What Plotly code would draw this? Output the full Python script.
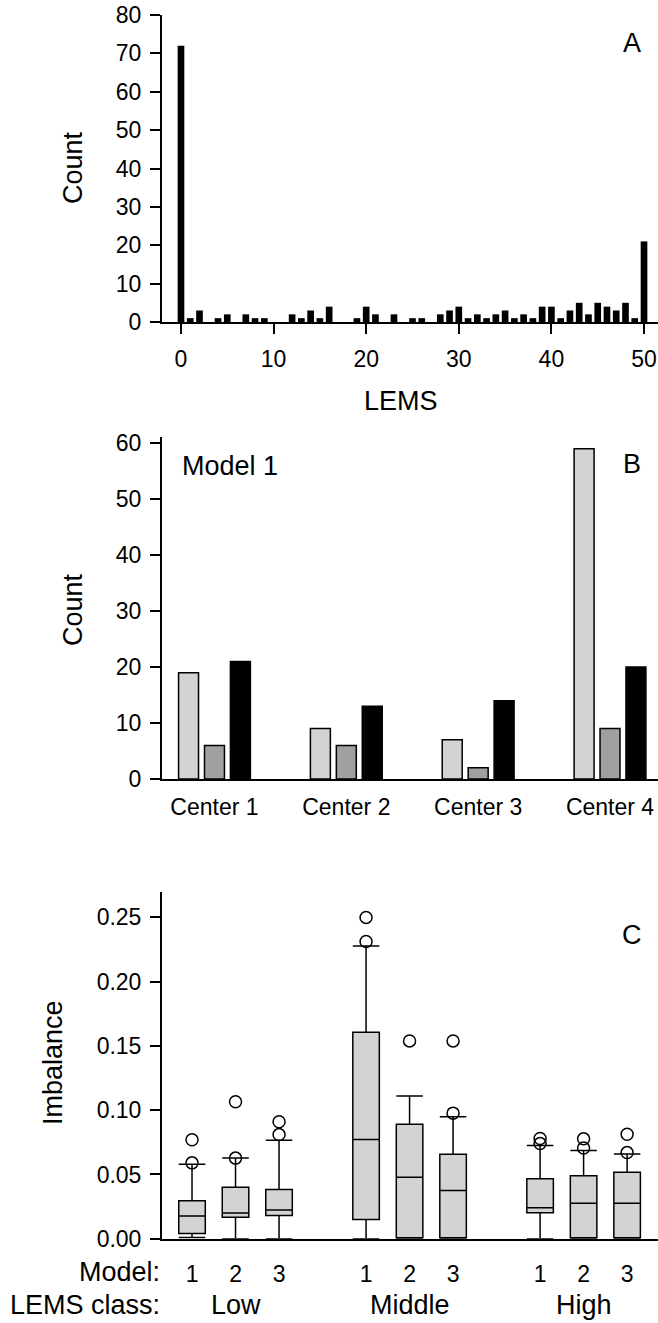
import plotly.graph_objects as go

W, H = 658, 1323

# ---------------- data ----------------
lems_scores = list(range(0, 51))
lems_counts = [72, 1, 3, 0, 1, 2, 0, 2, 1, 1, 0, 0, 2, 1, 3, 1, 4, 0, 0, 1,
               4, 2, 0, 2, 0, 1, 1, 0, 2, 3, 4, 1, 2, 1, 2, 3, 1, 2, 1, 4,
               4, 1, 3, 5, 2, 5, 4, 3, 5, 1, 21]

centers = ["Center 1", "Center 2", "Center 3", "Center 4"]
class_low = [19, 9, 7, 59]
class_mid = [6, 6, 2, 9]
class_high = [21, 13, 14, 20]

box_pos = [1, 2, 3, 5, 6, 7, 9, 10, 11]
box_labels = ["1", "2", "3", "1", "2", "3", "1", "2", "3"]
box_lower = [0.001, 0.0, 0.0, 0.0, 0.0, 0.0, 0.0, 0.0, 0.0]
box_q1 = [0.0041, 0.0166, 0.018, 0.015, 0.0008, 0.0008, 0.0202, 0.0008, 0.0008]
box_median = [0.0176, 0.020, 0.0223, 0.0772, 0.0479, 0.0376, 0.0241, 0.0275, 0.0275]
box_q3 = [0.0295, 0.040, 0.0383, 0.1606, 0.0891, 0.0658, 0.0466, 0.049, 0.0518]
box_upper = [0.058, 0.0627, 0.0767, 0.2277, 0.1111, 0.0948, 0.0725, 0.0687, 0.066]
outlier_pos = [1, 1, 2, 2, 3, 3, 5, 5, 6, 7, 7, 9, 9, 10, 10, 11, 11]
outlier_val = [0.059, 0.077, 0.0627, 0.1065, 0.081, 0.091, 0.2313, 0.25, 0.1539,
               0.0977, 0.1539, 0.074, 0.078, 0.0705, 0.0777, 0.067, 0.0813]
group_pos = [2, 6, 10]
group_labels = ["Low", "Middle", "High"]

# ---------------- helpers ----------------
def px_x(p):
    return p / W

def px_y(p):
    return 1 - p / H

FONT = "Liberation Sans, Arial, Helvetica, sans-serif"
TICK = 23
TITLE = 27

fig = go.Figure()

# Panel A histogram
fig.add_trace(go.Bar(x=lems_scores, y=lems_counts, width=0.72,
                     marker=dict(color="black", line=dict(width=0)),
                     xaxis="x", yaxis="y", showlegend=False))

# Panel B grouped bars
for vals, col in [(class_low, "#d3d3d3"), (class_mid, "#a0a0a0"), (class_high, "#000000")]:
    fig.add_trace(go.Bar(x=centers, y=vals,
                         marker=dict(color=col, line=dict(color="black", width=1.5)),
                         xaxis="x2", yaxis="y2", showlegend=False))

# Panel C boxes
fig.add_trace(go.Box(x=box_pos, q1=box_q1, median=box_median, q3=box_q3,
                     lowerfence=box_lower, upperfence=box_upper,
                     width=0.61, whiskerwidth=1, boxpoints=False,
                     fillcolor="#d3d3d3", line=dict(color="black", width=1.5),
                     xaxis="x3", yaxis="y3", showlegend=False))
fig.add_trace(go.Scatter(x=outlier_pos, y=outlier_val, mode="markers",
                         marker=dict(symbol="circle-open", size=12, color="black",
                                     line=dict(width=1.5)),
                         xaxis="x3", yaxis="y3", showlegend=False))

xdom = [px_x(162), 1.0]
axis_common = dict(showline=True, linewidth=2, linecolor="black", showgrid=False,
                   zeroline=False, automargin=False,
                   tickfont=dict(size=TICK, color="black", family=FONT))

fig.update_layout(
    width=W, height=H, margin=dict(l=0, r=0, t=0, b=0),
    paper_bgcolor="white", plot_bgcolor="white",
    font=dict(family=FONT, color="black"),
    barmode="group", bargap=0.41, bargroupgap=0.23,
    xaxis=dict(domain=xdom, anchor="y", range=[-2.05, 51.51],
               tickvals=[0, 10, 20, 30, 40, 50], ticks="outside", ticklen=10,
               tickwidth=2, tickcolor="black", ticklabelstandoff=5, **axis_common),
    yaxis=dict(domain=[px_y(322), px_y(15)], anchor="x", range=[0, 80], dtick=10,
               ticks="outside", ticklen=10, tickwidth=2, tickcolor="black",
               ticklabelstandoff=4, **axis_common),
    xaxis2=dict(domain=xdom, anchor="y2", type="category", range=[-0.398, 3.364],
                ticks="outside", ticklen=6, tickcolor="rgba(0,0,0,0)", **axis_common),
    yaxis2=dict(domain=[px_y(779), px_y(437)], anchor="x2", range=[0, 61.1], dtick=10,
                ticks="outside", ticklen=10, tickwidth=2, tickcolor="black",
                ticklabelstandoff=4, **axis_common),
    xaxis3=dict(domain=xdom, anchor="y3", range=[0.31, 11.71],
                tickvals=box_pos, ticktext=box_labels,
                ticks="outside", ticklen=14, tickcolor="rgba(0,0,0,0)", **axis_common),
    yaxis3=dict(domain=[px_y(1238.7), px_y(891.7)], anchor="x3", range=[0, 0.27],
                tickvals=[0, 0.05, 0.10, 0.15, 0.20, 0.25], tickformat=".2f",
                ticks="outside", ticklen=10, tickwidth=2, tickcolor="black",
                ticklabelstandoff=4, **axis_common),
)

def ann(text, x, y, size=TITLE, xanchor="center", yanchor="middle", angle=0, xref="paper"):
    fig.add_annotation(text=text, x=x, y=y, xref=xref, yref="paper", showarrow=False,
                       xanchor=xanchor, yanchor=yanchor, textangle=angle,
                       font=dict(size=size, family=FONT, color="black"))

ann("A", px_x(632), px_y(43))
ann("Count", px_x(73), px_y(168), angle=-90)
ann("LEMS", px_x(401), px_y(401))
ann("Model 1", px_x(180), px_y(466), xanchor="left")
ann("B", px_x(632), px_y(464))
ann("Count", px_x(73), px_y(610), angle=-90)
ann("C", px_x(632), px_y(935))
ann("Imbalance", px_x(53), px_y(1063), angle=-90)
ann("Model:", px_x(162), px_y(1272), xanchor="right")
ann("LEMS class:", px_x(162), px_y(1305), xanchor="right")
for gp, gl in zip(group_pos, group_labels):
    ann(gl, gp, px_y(1305), xref="x3")

fig.write_html("out.html", config={"displayModeBar": False},
               post_script="document.body.style.margin='0';document.body.style.overflow='hidden';")
